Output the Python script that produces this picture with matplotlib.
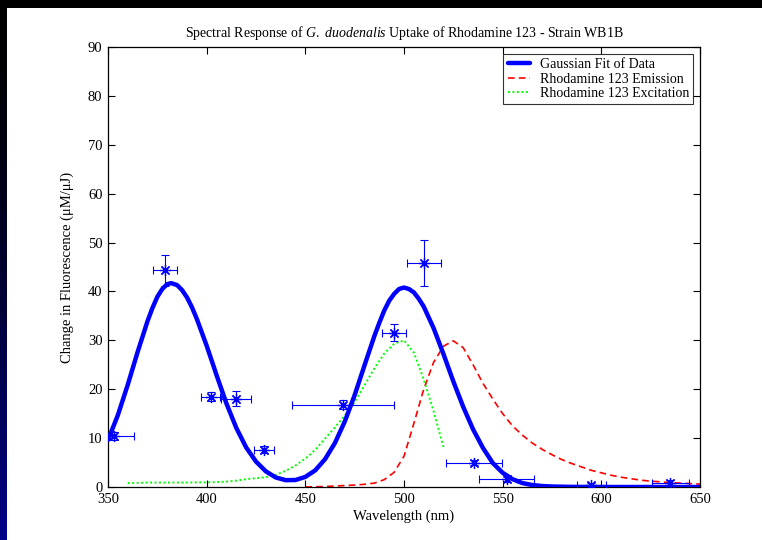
import numpy as np
import matplotlib
matplotlib.use("Agg")
from matplotlib import pyplot as plt
from matplotlib.patches import Rectangle

# measured points (wavelength, change in fluorescence) with error bars
pt_x = [353, 379, 402, 415, 429, 469, 495, 510, 535.5, 552, 595, 635]
pt_y = [10.4, 44.3, 18.5, 18.1, 7.6, 16.8, 31.6, 45.9, 5.0, 1.6, 0.5, 0.9]
pt_xerr = [10, 6, 5, 7.5, 5, 26, 6, 8.5, 14, 14, 7.5, 9.5]
pt_yerr = [0.8, 3.2, 1.0, 1.5, 0.7, 0.9, 1.7, 4.7, 0.6, 0.5, 0.3, 0.5]

# gaussian fit
fit_x = [350, 355, 360, 365, 370, 372.5, 375, 377.5, 380, 382, 385, 387.5, 390, 392.5, 395,
         400, 405, 410, 415, 420, 425, 430, 435, 440, 445,
         450, 455, 460, 465, 470, 475, 480, 485, 487.5, 490, 492.5, 495, 497.5,
         500, 502.5, 505, 507.5, 510, 515, 520, 525, 530, 535, 540, 545,
         550, 555, 560, 565, 570, 575, 580, 585, 590, 595,
         600, 610, 620, 630, 640, 650]
fit_y = [9.6, 14.7, 20.9, 27.6, 33.9, 36.6, 38.9, 40.5, 41.5, 41.7, 41.3, 40.3, 38.8, 36.8, 34.4,
         28.9, 22.9, 17.1, 12.1, 8.1, 5.2, 3.2, 1.95, 1.4, 1.43,
         2.07, 3.4, 5.7, 9.0, 13.4, 18.8, 24.9, 30.9, 33.6, 36.1, 38.1, 39.5, 40.5,
         40.8, 40.5, 39.8, 38.5, 36.9, 32.5, 27.2, 21.6, 16.4, 11.8, 8.0, 4.9,
         2.9, 1.6, 0.8, 0.4, 0.2, 0.1, 0.06, 0.03, 0.01, 0.0,
         0.0, 0.0, 0.0, 0.0, 0.0, 0.0]

# rhodamine 123 emission
em_x = list(range(450, 655, 5))
em_y = [0.0, 0.05, 0.1, 0.2, 0.3, 0.4, 0.55, 0.8, 1.5, 3.0,
        6.3, 13.0, 20.0, 25.5, 28.8, 29.9, 28.5, 25.0, 21.2, 18.0,
        15.0, 12.5, 10.6, 9.0, 7.7, 6.6, 5.6, 4.8, 4.1, 3.4,
        2.9, 2.4, 2.0, 1.7, 1.4, 1.2, 1.05, 0.9, 0.8, 0.7, 0.6]

# rhodamine 123 excitation
ex_x = list(range(360, 525, 5))
ex_y = [0.8, 0.85, 0.9, 0.9, 0.9, 0.9, 0.9, 0.95, 0.95, 1.0,
        1.1, 1.3, 1.6, 1.8, 2.0, 2.5, 3.3, 4.4, 5.8, 7.6,
        9.9, 12.2, 14.6, 17.4, 20.8, 24.3, 27.3, 29.3, 30.0, 27.5,
        22.0, 15.5, 8.2]

plt.rcParams['font.family'] = ['Liberation Serif', 'DejaVu Serif']
plt.rcParams['mathtext.fontset'] = 'custom'
plt.rcParams['mathtext.rm'] = 'Liberation Serif'
plt.rcParams['mathtext.it'] = 'Liberation Serif:italic'

W, H = 762, 540
fig = plt.figure(figsize=(W / 100, H / 100), dpi=100, facecolor='black')

# white page with dark slide border on the left
fig.patches.append(Rectangle((7 / W, 0), 1 - 7 / W, 1 - 8 / H,
                             transform=fig.transFigure, facecolor='white',
                             edgecolor='none', zorder=-10))
strip = fig.add_axes([0, 0, 7 / W, 1 - 8 / H])
grad = np.linspace(0, 1, 256).reshape(-1, 1) ** 1.5
strip.imshow(grad, aspect='auto', cmap=matplotlib.colors.LinearSegmentedColormap.from_list(
    'navy', ['#000000', '#000088']), origin='upper')
strip.axis('off')

ax = fig.add_axes([108 / W, 1 - 487 / H, 592 / W, 440 / H])
ax.set_facecolor('white')

ax.plot(fit_x, fit_y, color='#0000ff', lw=3.2, label='Gaussian Fit of Data', zorder=3,
        solid_joinstyle='round', solid_capstyle='round')
ax.plot(em_x, em_y, color='#ff0000', lw=1.2, ls=(0, (4, 2.5)), label='Rhodamine 123 Emission', zorder=2)
ax.plot(ex_x, ex_y, color='#00ff00', lw=1.4, ls=(0, (1, 1.3)), label='Rhodamine 123 Excitation', zorder=2)
ax.errorbar(pt_x, pt_y, xerr=pt_xerr, yerr=pt_yerr, fmt='none', ecolor='#0000ff',
            elinewidth=0.8, capsize=3, capthick=0.8, zorder=4)
ax.plot(pt_x, pt_y, ls='none', marker=(8, 2, 0), ms=8, mew=0.9, color='#0000ff', zorder=5)

ax.set_xlim(350, 650)
ax.set_ylim(0, 90)
ax.set_xticks(range(350, 651, 50))
ax.set_yticks(range(0, 91, 10))
ax.tick_params(direction='in', length=5, width=0.8, top=True, right=True,
               labelsize=10.5, colors='black', pad=4)
for s in ax.spines.values():
    s.set_linewidth(0.9)

ax.set_title(r'Spectral Response of $\it{G.\ duodenalis}$ Uptake of Rhodamine 123 - Strain WB1B',
             fontsize=10, pad=7)
ax.set_xlabel('Wavelength (nm)', fontsize=10.5, labelpad=3)
ax.set_ylabel('Change in Fluorescence (\u03bcM/\u03bcJ)', fontsize=10.5, labelpad=10)

leg = ax.legend(loc='upper right', fontsize=10, frameon=True, fancybox=False,
                edgecolor='black', handlelength=1.6, handletextpad=0.7, borderpad=0.3,
                labelspacing=0.1, borderaxespad=0.5)
leg.get_frame().set_linewidth(0.8)

fig.savefig('out.png', dpi=100, facecolor='black')
